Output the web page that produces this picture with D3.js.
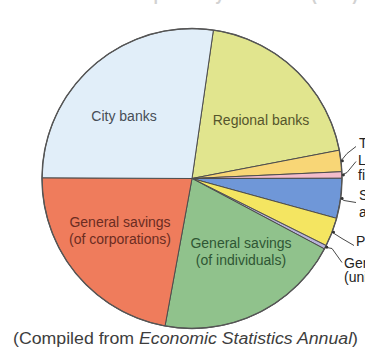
<!DOCTYPE html>
<html>
<head>
<meta charset="utf-8">
<script src="https://cdn.jsdelivr.net/npm/d3@7"></script>
<style>
  html, body { margin: 0; padding: 0; background: #fff; overflow: hidden; }
  svg { display: block; }
</style>
</head>
<body>
<svg id="chart" width="365" height="359"></svg>
<script>
// Shares of deposits by institution type (%), clockwise from the City/Regional boundary
const categories = [
  "Regional banks", "Trust banks", "Long-term credit banks", "Shinkin banks and credit coops",
  "Postal savings", "General savings (unincorporated)", "General savings (of individuals)",
  "General savings (of corporations)", "City banks"
];
const shares = [19.7, 2.3, 0.7, 4.3, 3.1, 0.4, 20.1, 22.2, 27.2];
const sliceColors = ["#e1e58e", "#f8d676", "#f3bccb", "#6f97d8", "#f4e561", "#b9b3da", "#90c28c", "#ef7c5c", "#e1eef9"];

// Labels drawn inside slices (lines of text per slice)
const insideLabels = [
  { cat: "City banks", lines: ["City banks"], color: "#474d55" },
  { cat: "Regional banks", lines: ["Regional banks"], color: "#55552c" },
  { cat: "General savings (of corporations)", lines: ["General savings", "(of corporations)"], color: "#6b2c22" },
  { cat: "General savings (of individuals)", lines: ["General savings", "(of individuals)"], color: "#2f5634" }
];
// Callout labels for the thin slices on the right
const calloutLabels = [
  { cat: "Trust banks", lines: ["Trust banks"] },
  { cat: "Long-term credit banks", lines: ["Long-term credit", "financial banks"] },
  { cat: "Shinkin banks and credit coops", lines: ["Shinkin banks", "and credit coops"] },
  { cat: "Postal savings", lines: ["Postal savings"] },
  { cat: "General savings (unincorporated)", lines: ["General savings", "(unincorporated)"] }
];
const titleText = "Distribution of Deposits by Institution (1985)";
const captionParts = ["(Compiled from ", "Economic Statistics Annual", ")"];

const svg = d3.select("#chart");
const cx = 192, cy = 178.5, R = 150;
const startDeg = 8.2;
const font = "Liberation Sans, Arial, sans-serif";

const pie = d3.pie().sort(null).value(d => d.v)
  .startAngle(startDeg * Math.PI / 180)
  .endAngle((startDeg + 360) * Math.PI / 180);
const data = categories.map((c, i) => ({ c, v: shares[i], color: sliceColors[i] }));
const arcs = pie(data);
const arc = d3.arc().innerRadius(0).outerRadius(R);
const byCat = new Map(arcs.map(a => [a.data.c, a]));

// Title (runs off the top edge)
svg.append("text")
  .attr("x", 18).attr("y", -0.5)
  .attr("textLength", 340).attr("lengthAdjust", "spacingAndGlyphs")
  .attr("font-family", font)
  .attr("font-size", 18).attr("font-weight", "bold")
  .attr("fill", "#d2d2d2")
  .text(titleText);

const g = svg.append("g").attr("transform", `translate(${cx},${cy})`);

g.selectAll("path.slice").data(arcs).join("path")
  .attr("class", "slice")
  .attr("d", arc)
  .attr("fill", d => d.data.color)
  .attr("stroke", "#4d4d4d")
  .attr("stroke-width", 1)
  .attr("stroke-linejoin", "round");

g.append("circle").attr("r", R).attr("fill", "none")
  .attr("stroke", "#555").attr("stroke-width", 1.4);

// Inside labels
const insidePos = {
  "City banks": [-68, -58],
  "Regional banks": [69, -53.5],
  "General savings (of corporations)": [-72, 48.5],
  "General savings (of individuals)": [49, 69.5]
};
insideLabels.forEach(l => {
  const [x, y] = insidePos[l.cat];
  const t = g.append("text")
    .attr("text-anchor", "middle")
    .attr("font-family", font)
    .attr("font-size", 14)
    .attr("fill", l.color);
  l.lines.forEach((s, i) => {
    t.append("tspan").attr("x", x).attr("y", y + i * 17).text(s);
  });
});

// Callout leaders: start at the rim at the slice's mid angle
const calloutGeom = {
  "Trust banks": { bend: [155, -25], end: [164, -32], text: [167, -34.5], lh: 15 },
  "Long-term credit banks": { bend: [155, -6], end: [164, -17], text: [166, -17.5], lh: 15 },
  "Shinkin banks and credit coops": { bend: [152, 22], end: [164, 24], text: [167, 17.5], lh: 16.5 },
  "Postal savings": { bend: [150, 60], end: [162, 67], text: [164, 63], lh: 15 },
  "General savings (unincorporated)": { bend: [140, 70], end: [150, 84], text: [152, 85], lh: 14.5 }
};
calloutLabels.forEach(l => {
  const a = byCat.get(l.cat);
  const mid = (a.startAngle + a.endAngle) / 2;
  const rim = [Math.sin(mid) * R, -Math.cos(mid) * R];
  const gm = calloutGeom[l.cat];
  g.append("polyline")
    .attr("points", [rim, gm.bend, gm.end].map(p => p.join(",")).join(" "))
    .attr("fill", "none").attr("stroke", "#333").attr("stroke-width", 0.9);
  g.append("circle").attr("cx", rim[0] + 1.5).attr("cy", rim[1]).attr("r", 1.4).attr("fill", "#333");
  const t = g.append("text")
    .attr("font-family", font)
    .attr("font-size", 14).attr("fill", "#222");
  l.lines.forEach((s, i) => {
    t.append("tspan").attr("x", gm.text[0]).attr("y", gm.text[1] + i * gm.lh + 4).text(s);
  });
});

// Source caption
const cap = svg.append("text")
  .attr("x", 13).attr("y", 343.5)
  .attr("textLength", 345).attr("lengthAdjust", "spacingAndGlyphs")
  .attr("font-family", font)
  .attr("font-size", 16).attr("fill", "#3d3d3d");
cap.append("tspan").text(captionParts[0]);
cap.append("tspan").attr("font-style", "italic").text(captionParts[1]);
cap.append("tspan").text(captionParts[2]);
</script>
</body>
</html>
